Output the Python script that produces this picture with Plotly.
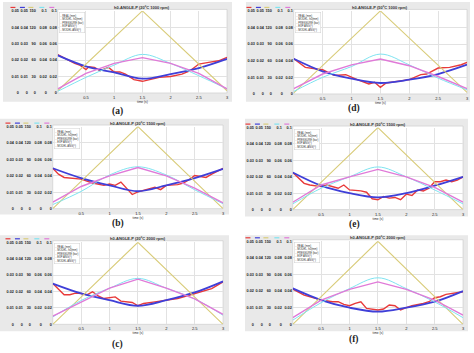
import plotly.graph_objects as go

W, H = 474, 353

# ---------------- DATA ----------------
T_STEP = [0, 0.5, 1.0, 1.5, 2.0, 2.5, 3.0]
T_PRES = [0, 1.5, 3.0]

TITLES = ["h0-ANGLE-P (20ºC 1000 rpm)", "h0-ANGLE-P (50ºC 1000 rpm)",
          "h0-ANGLE-P (20ºC 1500 rpm)", "h0-ANGLE-P (50ºC 1500 rpm)",
          "h0-ANGLE-P (20ºC 2000 rpm)", "h0-ANGLE-P (50ºC 2000 rpm)"]
PANEL_LABELS = ["(a)", "(d)", "(b)", "(e)", "(c)", "(f)"]
SERIES_NAMES = ["REAL (mm)", "MODEL, h0(mm)", "PRESSURE (bar)", "EXP ANG(º)", "MODEL ANG(º)"]

# panel (a)
A_REAL_T = [0, 0.3, 0.4, 0.5, 0.55, 0.65, 0.75, 0.9, 1.0, 1.1, 1.2, 1.35, 1.5, 1.6, 1.8, 2.0, 2.2, 2.35, 2.5, 2.7, 2.85, 3.0]
A_REAL = [0.0233, 0.018, 0.0168, 0.0142, 0.016, 0.0156, 0.0136, 0.0156, 0.0128, 0.0128, 0.0115, 0.0081, 0.0071, 0.008, 0.0095, 0.010, 0.0115, 0.0136, 0.0176, 0.0188, 0.0196, 0.0217]
A_MODEL = [0.0229, 0.0162, 0.0125, 0.0087, 0.0115, 0.0152, 0.0208]
A_PRES = [4, 150, 4]
A_EXPANG = [0.002, 0.019, 0.034, 0.047, 0.036, 0.021, 0.005]
A_MODANG = [0.005, 0.024, 0.036, 0.043, 0.036, 0.024, 0.005]

# panel (d)
D_REAL_T = [0, 0.2, 0.4, 0.5, 0.7, 0.9, 1.1, 1.3, 1.4, 1.5, 1.6, 1.8, 2.0, 2.2, 2.3, 2.5, 2.7, 2.9, 3.0]
D_REAL = [0.0212, 0.016, 0.015, 0.0146, 0.0112, 0.0116, 0.0086, 0.006, 0.007, 0.004, 0.0066, 0.0076, 0.0086, 0.0116, 0.012, 0.0156, 0.016, 0.0176, 0.019]
D_MODEL = [0.0212, 0.0136, 0.0092, 0.0066, 0.0086, 0.012, 0.0176]
D_PRES = [2, 150, 3]
D_EXPANG = [0.003, 0.020, 0.033, 0.048, 0.035, 0.019, 0.005]
D_MODANG = [0.0064, 0.024, 0.035, 0.042, 0.034, 0.021, 0.0064]

# panel (b)
B_REAL_T = [0, 0.1, 0.2, 0.5, 0.7, 0.9, 1.0, 1.1, 1.2, 1.3, 1.4, 1.5, 1.7, 1.8, 1.9, 2.0, 2.2, 2.3, 2.4, 2.5, 2.6, 2.7, 2.8, 3.0]
B_REAL = [0.0246, 0.021, 0.019, 0.018, 0.0156, 0.0142, 0.015, 0.0142, 0.0162, 0.0126, 0.0086, 0.0102, 0.0122, 0.013, 0.0116, 0.0142, 0.0146, 0.0156, 0.0176, 0.0202, 0.0196, 0.019, 0.021, 0.0246]
B_MODEL = [0.0246, 0.0186, 0.0142, 0.0106, 0.0142, 0.0186, 0.0242]
B_PRES = [0, 150, 0]
B_EXPANG = [0.005, 0.021, 0.041, 0.051, 0.041, 0.023, 0.006]
B_MODANG = [0.008, 0.027, 0.040, 0.050, 0.040, 0.025, 0.007]

# panel (e)
E_REAL_T = [0, 0.2, 0.3, 0.5, 0.6, 0.8, 0.9, 1.0, 1.2, 1.3, 1.4, 1.5, 1.6, 1.7, 1.8, 1.9, 2.0, 2.1, 2.2, 2.3, 2.4, 2.5, 2.6, 2.7, 2.8, 2.9, 3.0]
E_REAL = [0.0226, 0.016, 0.015, 0.014, 0.015, 0.013, 0.015, 0.012, 0.0114, 0.0106, 0.0066, 0.006, 0.008, 0.007, 0.0074, 0.006, 0.0094, 0.0086, 0.012, 0.0114, 0.013, 0.017, 0.017, 0.018, 0.017, 0.018, 0.020]
E_MODEL = [0.0226, 0.0146, 0.010, 0.0074, 0.010, 0.0146, 0.020]
E_PRES = [0, 150, 0]
E_EXPANG = [0.007, 0.026, 0.040, 0.052, 0.040, 0.024, 0.007]
E_MODANG = [0.009, 0.030, 0.040, 0.049, 0.040, 0.027, 0.009]

# panel (c)
C_REAL_T = [0, 0.1, 0.2, 0.3, 0.4, 0.5, 0.6, 0.7, 0.8, 0.9, 1.0, 1.1, 1.2, 1.3, 1.4, 1.5, 1.6, 1.8, 2.0, 2.2, 2.4, 2.5, 2.6, 2.8, 3.0]
C_REAL = [0.0248, 0.0214, 0.018, 0.018, 0.019, 0.0188, 0.018, 0.0198, 0.0173, 0.0157, 0.0161, 0.0167, 0.0141, 0.0137, 0.0133, 0.0113, 0.0127, 0.0137, 0.0147, 0.0157, 0.0177, 0.0187, 0.020, 0.0217, 0.0258]
C_MODEL = [0.0248, 0.0188, 0.0147, 0.0113, 0.0147, 0.0194, 0.0262]
C_PRES = [0, 150, 0]
C_EXPANG = [0.009, 0.029, 0.044, 0.056, 0.044, 0.031, 0.011]
C_MODANG = [0.010, 0.027, 0.044, 0.055, 0.044, 0.031, 0.012]

# panel (f)
F_REAL_T = [0, 0.2, 0.4, 0.5, 0.7, 0.8, 0.9, 1.0, 1.1, 1.2, 1.3, 1.4, 1.5, 1.6, 1.7, 1.8, 1.9, 2.0, 2.1, 2.3, 2.4, 2.5, 2.6, 2.7, 2.8, 3.0]
F_REAL = [0.0212, 0.0176, 0.0156, 0.0146, 0.0136, 0.0136, 0.012, 0.0112, 0.0126, 0.0136, 0.0096, 0.0092, 0.0086, 0.0092, 0.0116, 0.0112, 0.0086, 0.010, 0.0112, 0.0126, 0.0136, 0.016, 0.0166, 0.018, 0.0186, 0.0196]
F_MODEL = [0.0216, 0.0146, 0.010, 0.0076, 0.010, 0.0136, 0.020]
F_PRES = [0, 150, 0]
F_EXPANG = [0.005, 0.026, 0.043, 0.056, 0.043, 0.027, 0.008]
F_MODANG = [0.008, 0.029, 0.042, 0.051, 0.042, 0.029, 0.011]

X_TICKS = [0.5, 1, 1.5, 2, 2.5, 3]
Y_RANGES = [[0, 0.05], [0, 0.05], [0, 150], [0, 0.1], [0, 0.1]]
Y_DTICKS = [0.01, 0.01, 30, 0.02, 0.02]

PANEL_DATA = [
    (A_REAL_T, A_REAL, A_MODEL, A_PRES, A_EXPANG, A_MODANG),
    (D_REAL_T, D_REAL, D_MODEL, D_PRES, D_EXPANG, D_MODANG),
    (B_REAL_T, B_REAL, B_MODEL, B_PRES, B_EXPANG, B_MODANG),
    (E_REAL_T, E_REAL, E_MODEL, E_PRES, E_EXPANG, E_MODANG),
    (C_REAL_T, C_REAL, C_MODEL, C_PRES, C_EXPANG, C_MODANG),
    (F_REAL_T, F_REAL, F_MODEL, F_PRES, F_EXPANG, F_MODANG),
]

# ---------------- LAYOUT (pixels) ----------------
PLOT_X = [(58, 228), (295, 469), (53, 224), (294, 465), (53, 224), (294, 465)]
PLOT_Y = [(9, 92), (9, 93), (126, 209), (127, 210), (243, 326), (242, 326)]
BG = [(3, 233, 0, 101), (247, 472, 0, 101), (0, 230, 118, 215),
      (246, 470, 118, 217), (0, 230, 236, 333), (246, 470, 236, 333)]
LAB_POS = [(118, 111), (356, 108), (118, 224), (356, 225), (118, 346), (356, 341)]
COL_OFFS = [-41, -32, -24, -13, -3]  # right edge of each label column relative to plot left
MARK_OFFS = [-45, -35.5, -27, -16, -6]

COLORS = ["#e83a3a", "#3f3fd8", "#d9cc7a", "#7fe3f0", "#e07ad8"]
WIDTHS = [1.4, 1.8, 1.1, 1.0, 1.4]

def px(x):
    return x / W

def py(y):
    return 1 - y / H

fig = go.Figure()
layout = dict(width=W, height=H, margin=dict(l=0, r=0, t=0, b=0),
              paper_bgcolor="white", plot_bgcolor="white", showlegend=False,
              font=dict(family="Liberation Sans", color="#333"))
shapes = []
annotations = []

for i in range(6):
    x0, x1 = PLOT_X[i]
    y0, y1 = PLOT_Y[i]
    bx0, bx1, by0, by1 = BG[i]
    shapes.append(dict(type="rect", xref="paper", yref="paper", layer="below",
                       x0=px(bx0), x1=px(bx1), y0=py(by1), y1=py(by0),
                       fillcolor="#e9e9e9", line=dict(width=0)))
    shapes.append(dict(type="rect", xref="paper", yref="paper", layer="below",
                       x0=px(x0), x1=px(x1), y0=py(y1), y1=py(y0 - 1.5),
                       fillcolor="white", line=dict(color="#c8c8c8", width=0.6)))
    xn = i + 1
    xname = "xaxis" if xn == 1 else f"xaxis{xn}"
    base = i * 5 + 1
    layout[xname] = dict(domain=[px(x0), px(x1)], range=[0, 3], anchor=f"y{base}",
                         tickvals=X_TICKS, ticktext=["0.5", "1", "1.5", "2", "2.5", "3"],
                         showgrid=True, gridcolor="#e2e2e2", gridwidth=0.6,
                         zeroline=False, ticks="", tickfont=dict(size=4, color="#222"),
                         ticklabelstandoff=1,
                         title=dict(text="time (s)", font=dict(size=3.2, color="#222"), standoff=1))
    for k in range(5):
        yn = base + k
        yname = "yaxis" if yn == 1 else f"yaxis{yn}"
        ax = dict(range=Y_RANGES[k], dtick=Y_DTICKS[k], tick0=0, anchor="free",
                  position=px(x0 + COL_OFFS[k]), ticks="", showline=False,
                  zeroline=False, tickfont=dict(size=3.8, color="#222", weight="bold"),
                  ticklabelstandoff=-2, showgrid=(k == 0), gridcolor="#e2e2e2",
                  gridwidth=0.6)
        if k == 0:
            ax["domain"] = [py(y1), py(y0)]
        else:
            ax["overlaying"] = f"y{base}"
        layout[yname] = ax
        # colored marker above the column
        cx = x0 + MARK_OFFS[k]
        shapes.append(dict(type="line", xref="paper", yref="paper",
                           x0=px(cx - 2.5), x1=px(cx + 2.5), y0=py(y0 - 3.5), y1=py(y0 - 3.5),
                           line=dict(color=COLORS[k], width=1.2)))

    real_t, real, model, pres, expang, modang = PANEL_DATA[i]
    xa = "x" if xn == 1 else f"x{xn}"
    series = [(real_t, real, "linear"), (T_STEP, model, "spline"),
              (T_PRES, pres, "linear"), (T_STEP, expang, "spline"),
              (T_STEP, modang, "linear")]
    order = [2, 3, 4, 1, 0]
    for k in order:
        xs, ys, shape = series[k]
        yn = base + k
        fig.add_trace(go.Scatter(x=xs, y=ys, mode="lines", name=SERIES_NAMES[k],
                                 xaxis=xa, yaxis=f"y{yn}",
                                 line=dict(color=COLORS[k], width=WIDTHS[k], shape=shape)))

    annotations.append(dict(xref="paper", yref="paper", x=px((x0 + x1) / 2), y=py(y0 - 3.5),
                            text=f"<b>{TITLES[i]}</b>", showarrow=False,
                            font=dict(size=4, color="#333"), xanchor="center", yanchor="middle"))
    annotations.append(dict(xref="paper", yref="paper", x=px(x0 + 1), y=py(y0 + 1),
                            text="<br>".join("- " + s for s in SERIES_NAMES), showarrow=False,
                            align="left", xanchor="left", yanchor="top",
                            font=dict(size=2.7, color="#333"), bgcolor="white",
                            bordercolor="#cfcfcf", borderwidth=0.5, borderpad=1))
    lx, ly = LAB_POS[i]
    annotations.append(dict(xref="paper", yref="paper", x=px(lx), y=py(ly),
                            text=f"<b>{PANEL_LABELS[i]}</b>", showarrow=False,
                            font=dict(size=9.5, family="Liberation Serif", color="#222"),
                            xanchor="center", yanchor="middle"))

layout["shapes"] = shapes
layout["annotations"] = annotations
fig.update_layout(**layout)
fig.write_html("out.html")
